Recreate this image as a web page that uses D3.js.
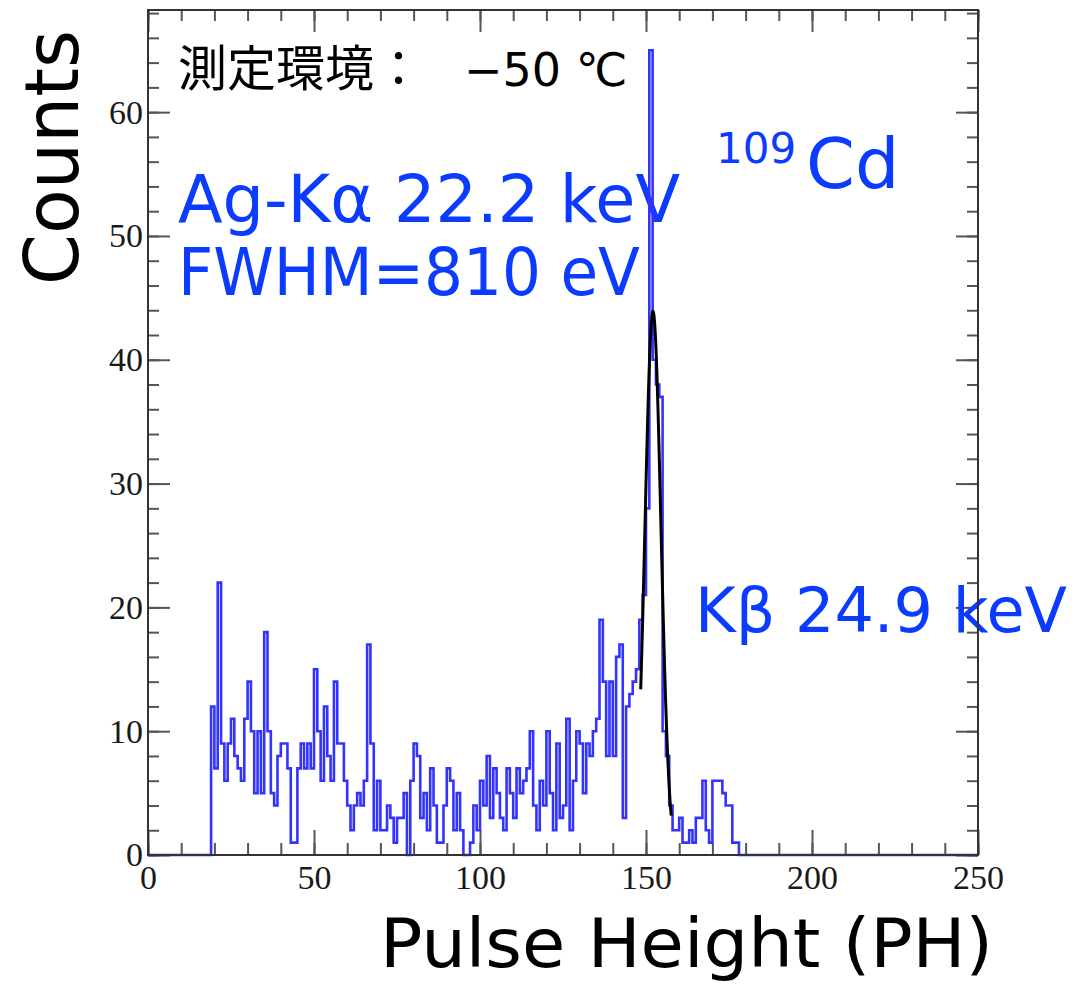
<!DOCTYPE html>
<html><head><meta charset="utf-8">
<script src="https://cdn.jsdelivr.net/npm/d3@7"></script>
<style>body{margin:0;background:#fff;} svg{display:block;}</style>
</head><body>
<svg id="chart" width="1074" height="986"></svg>
<script>
// ---- data ----
const binStart = 19;      // first non-empty bin (PH)
const binWidth = 1;
const counts = [
  12, 7, 22, 9, 6, 9, 11, 8, 7, 6,      // 19-28
  11, 14, 10, 5, 10, 5, 18, 10, 5, 4,   // 29-38
  8, 9, 9, 7, 1, 1, 7, 9, 7, 9,         // 39-48
  7, 15, 10, 6, 12, 8, 6, 14, 9, 9,     // 49-58
  6, 4, 2, 4, 5, 4, 6, 17, 9, 2,        // 59-68
  6, 2, 2, 4, 3, 1, 3, 3, 5, 0,         // 69-78
  6, 9, 8, 3, 5, 2, 7, 4, 1, 1,         // 79-88
  4, 7, 6, 2, 5, 2, 0, 0, 1, 4,         // 89-98
  2, 6, 4, 8, 3, 7, 5, 3, 2, 7,         // 99-108
  5, 3, 7, 5, 6, 7, 10, 4, 2, 6,        // 109-118
  4, 10, 5, 2, 9, 3, 4, 11, 2, 6,       // 119-128
  10, 9, 5, 9, 8, 10, 11, 19, 14, 8,    // 129-138
  14, 8, 16, 17, 3, 12, 13, 14, 15, 19, // 139-148
  21, 28, 65, 40, 38, 37, 10, 8, 4, 2,  // 149-158
  2, 3, 1, 1, 2, 1, 3, 3, 6, 2,         // 159-168
  1, 6, 6, 6, 5, 4, 4, 1, 1             // 169-177
];
const xDomain = [0, 250];
const yDomain = [0, 68.25];
const xTicks = [0, 50, 100, 150, 200, 250];
const yTicks = [0, 10, 20, 30, 40, 50, 60];
const xMinorStep = 10;
const yMinorStep = 2;
const fitParams = [43.9, 152.1, 2.4];   // Gaussian: amplitude, mean, sigma
const fitRange = [148.4, 157.6];

const xTitle = "Pulse Height (PH)";
const yTitle = "Counts";
const envLabel = "測定環境：";
const tempLabel = "−50 ℃";
const lineLabel = "Ag-Kα 22.2 keV";
const fwhmLabel = "FWHM=810 eV";
const isoMass = "109";
const isoName = "Cd";
const kbLabel = "Kβ 24.9 keV";

// ---- layout ----
const svg = d3.select("#chart");
const L = 148, R = 978, T = 10, B = 855;
const x = d3.scaleLinear().domain(xDomain).range([L, R]);
const y = d3.scaleLinear().domain(yDomain).range([B, T]);
const blue = "#0b3bff";
const histBlue = "#3333ff";
const tickColor = "#555";

// histogram (full axis range, empty bins at zero)
const nBins = Math.round((xDomain[1] - xDomain[0]) / binWidth);
const pts = [];
for (let i = 0; i < nBins; i++) {
  const lo = xDomain[0] + i * binWidth;
  const j = Math.round((lo - binStart) / binWidth);
  const v = (j >= 0 && j < counts.length) ? counts[j] : 0;
  pts.push([lo, v]);
}
pts.push([xDomain[1], pts[pts.length - 1][1]]);
const histLine = d3.line().x(d => x(d[0])).y(d => y(d[1])).curve(d3.curveStepAfter);

// axes (ticks inside)
function styleAxis(g) {
  g.select(".domain").remove();
  g.selectAll(".tick line").attr("stroke", tickColor).attr("stroke-width", 2);
  g.selectAll(".tick text").attr("font-family", "Liberation Serif, Times New Roman, serif")
    .attr("font-size", 34).attr("fill", "#1a1a1a");
}
const yMinor = d3.range(0, yDomain[1], yMinorStep);
const xMinor = d3.range(0, xDomain[1] + 0.1, xMinorStep);

svg.append("g").attr("transform", `translate(${L},0)`)
  .call(d3.axisLeft(y).tickValues(yMinor).tickSize(-11).tickFormat("")).call(styleAxis);
svg.append("g").attr("transform", `translate(${L},0)`)
  .call(d3.axisLeft(y).tickValues(yTicks).tickSize(-22).tickPadding(5).tickFormat(d3.format("d"))).call(styleAxis);
svg.append("g").attr("transform", `translate(${R},0)`)
  .call(d3.axisRight(y).tickValues(yMinor).tickSize(-11).tickFormat("")).call(styleAxis);
svg.append("g").attr("transform", `translate(${R},0)`)
  .call(d3.axisRight(y).tickValues(yTicks).tickSize(-22).tickFormat("")).call(styleAxis);

svg.append("g").attr("transform", `translate(0,${B})`)
  .call(d3.axisBottom(x).tickValues(xMinor).tickSize(-12).tickFormat("")).call(styleAxis);
svg.append("g").attr("transform", `translate(0,${B})`)
  .call(d3.axisBottom(x).tickValues(xTicks).tickSize(-25).tickPadding(10).tickFormat(d3.format("d"))).call(styleAxis);
svg.append("g").attr("transform", `translate(0,${T})`)
  .call(d3.axisTop(x).tickValues(xMinor).tickSize(-11).tickFormat("")).call(styleAxis);
svg.append("g").attr("transform", `translate(0,${T})`)
  .call(d3.axisTop(x).tickValues(xTicks).tickSize(-22).tickFormat("")).call(styleAxis);

// texts
svg.append("text").attr("x", 178).attr("y", 86)
  .attr("font-family", "Noto Sans CJK JP").attr("font-size", 49).attr("fill", "#000").text(envLabel);
svg.append("text").attr("x", 464).attr("y", 86)
  .attr("font-family", "DejaVu Sans, Noto Sans CJK JP").attr("font-size", 46).attr("fill", "#000").text(tempLabel);

svg.append("text").attr("x", 178).attr("y", 222)
  .attr("font-family", "DejaVu Sans").attr("font-size", 66).attr("fill", blue)
  .attr("textLength", 502).attr("lengthAdjust", "spacingAndGlyphs").text(lineLabel);
svg.append("text").attr("x", 178).attr("y", 295)
  .attr("font-family", "DejaVu Sans").attr("font-size", 66).attr("fill", blue)
  .attr("textLength", 462).attr("lengthAdjust", "spacingAndGlyphs").text(fwhmLabel);

svg.append("text").attr("x", 716).attr("y", 163)
  .attr("font-family", "DejaVu Sans").attr("font-size", 42).attr("fill", blue).text(isoMass);
svg.append("text").attr("x", 806).attr("y", 188)
  .attr("font-family", "DejaVu Sans").attr("font-size", 70).attr("fill", blue).text(isoName);

svg.append("text").attr("x", 695).attr("y", 632)
  .attr("font-family", "DejaVu Sans").attr("font-size", 62).attr("fill", blue)
  .attr("textLength", 372).attr("lengthAdjust", "spacingAndGlyphs").text(kbLabel);

svg.append("text").attr("transform", "translate(78,285) rotate(-90)")
  .attr("font-family", "DejaVu Sans").attr("font-size", 74).attr("fill", "#000")
  .attr("textLength", 255).attr("lengthAdjust", "spacingAndGlyphs").text(yTitle);
svg.append("text").attr("x", 380).attr("y", 967)
  .attr("font-family", "DejaVu Sans").attr("font-size", 68).attr("fill", "#000")
  .attr("textLength", 613).attr("lengthAdjust", "spacingAndGlyphs").text(xTitle);

// histogram
svg.append("path").datum(pts).attr("d", histLine)
  .attr("fill", "none").attr("stroke", histBlue).attr("stroke-width", 2.6);

// fit curve
const [amp, mu, sig] = fitParams;
const fitPts = d3.range(0, 101).map(i => {
  const v = fitRange[0] + (fitRange[1] - fitRange[0]) * i / 100;
  return [v, amp * Math.exp(-0.5 * ((v - mu) / sig) ** 2)];
});
svg.append("path").datum(fitPts)
  .attr("d", d3.line().x(d => x(d[0])).y(d => y(d[1])))
  .attr("fill", "none").attr("stroke", "#000").attr("stroke-width", 3);

// frame
svg.append("rect").attr("x", L).attr("y", T).attr("width", R - L).attr("height", B - T)
  .attr("fill", "none").attr("stroke", "#333").attr("stroke-width", 2);
</script>
</body></html>
